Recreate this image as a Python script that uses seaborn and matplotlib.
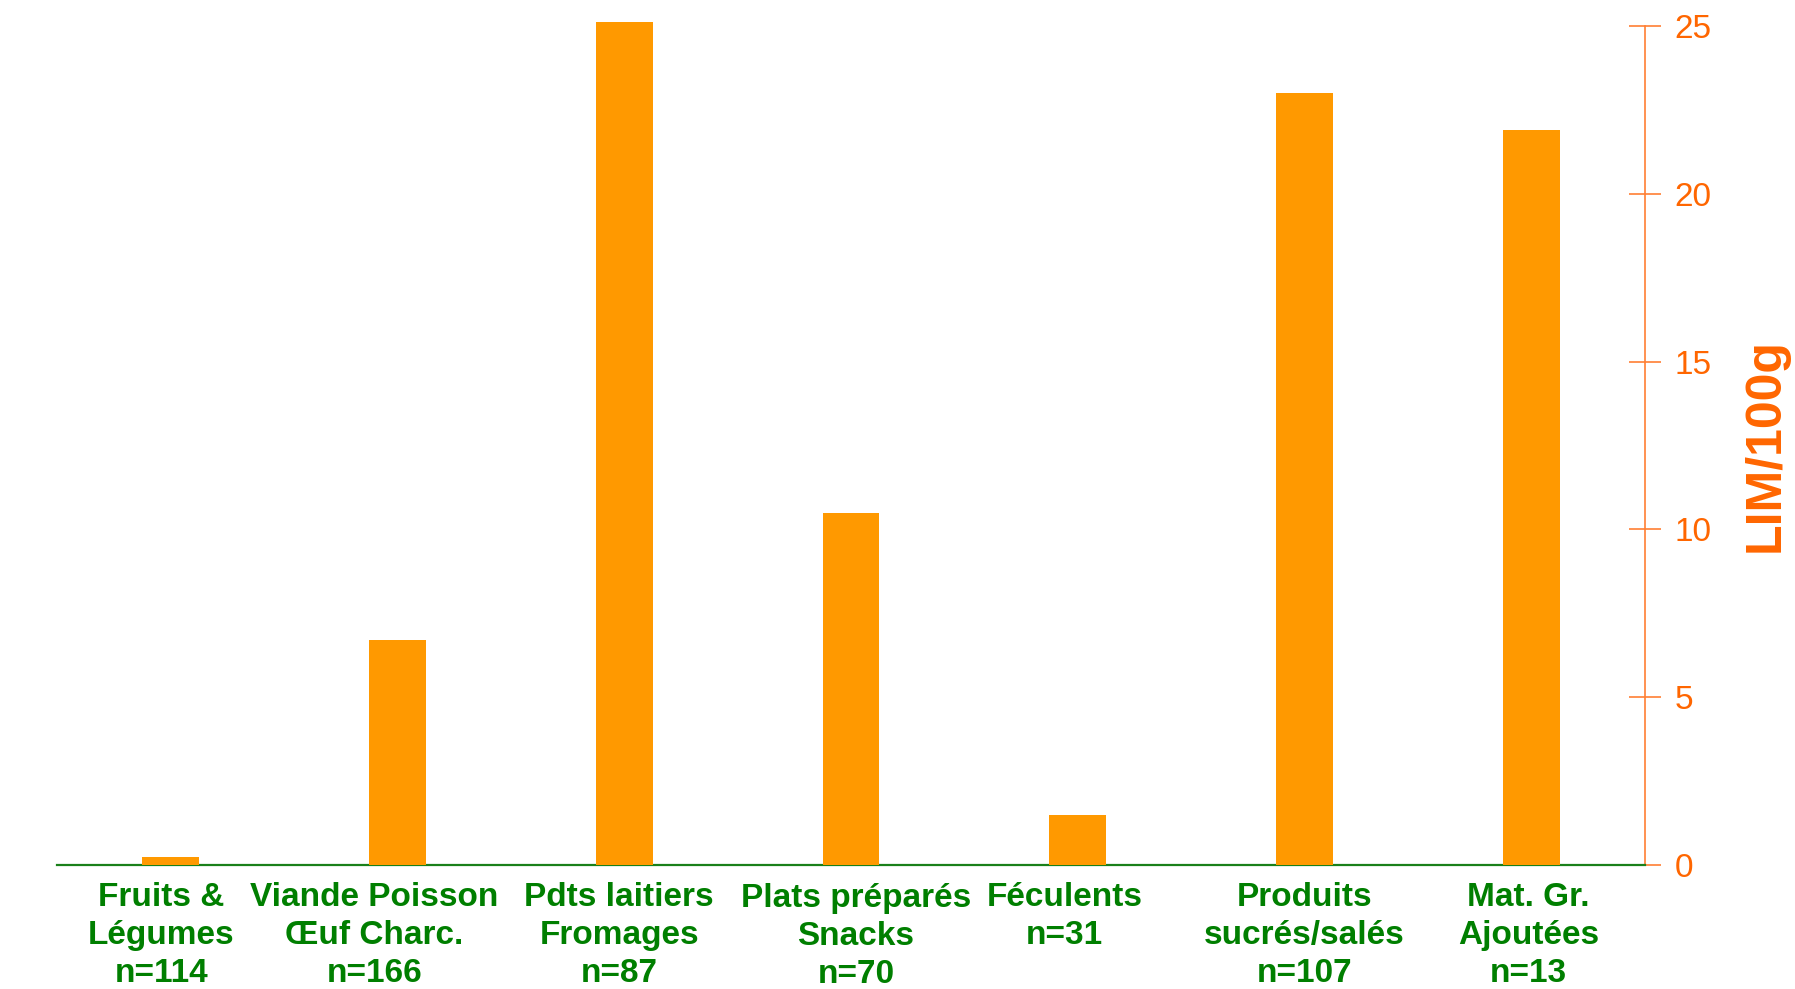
import matplotlib
matplotlib.use("Agg")
import matplotlib.pyplot as plt
import seaborn as sns
import pandas as pd

categories = ["Fruits &\nLégumes\nn=114", "Viande Poisson\nŒuf Charc.\nn=166",
              "Pdts laitiers\nFromages\nn=87", "Plats préparés\nSnacks\nn=70",
              "Féculents\nn=31", "Produits\nsucrés/salés\nn=107", "Mat. Gr.\nAjoutées\nn=13"]
values = [0.24, 6.7, 25.13, 10.5, 1.49, 23.0, 21.9]
yticks = [0, 5, 10, 15, 20, 25]
# small horizontal / vertical nudges of the category labels (points)
label_dx = [-6.5, -16.5, -3.5, 3.5, -9.5, 0, -2]
label_dy = [0, 0, 0, -1, 0, 0, 0]

df = pd.DataFrame({"cat": categories, "val": values})

sns.set_theme(style="white")
from matplotlib import font_manager
names = {f.name for f in font_manager.fontManager.ttflist}
narrow = "Liberation Sans Narrow" if "Liberation Sans Narrow" in names else "Liberation Sans"
plt.rcParams['font.family'] = ['Liberation Sans', 'DejaVu Sans']

fig = plt.figure(figsize=(17.95, 9.89), dpi=100)
ax = fig.add_axes([0.0318, 0.1254, 0.9164 - 0.0318, 0.9737 - 0.1254])
sns.barplot(data=df, x="cat", y="val", color="#FF9900", width=0.25, saturation=1,
            ax=ax, zorder=3)
for p in ax.patches:
    p.set_clip_on(False)
    p.set_edgecolor("none")

ax.set_xlim(-0.5, 6.5)
ax.set_ylim(0, 25)
ax.yaxis.tick_right()
ax.yaxis.set_label_position("right")
ax.set_yticks(yticks)
ax.set_yticklabels([str(t) for t in yticks], fontsize=24, color="#FF6600")
ax.tick_params(axis="y", direction="inout", length=23, width=1.2, color="#FF7F33", pad=10)
ax.tick_params(axis="x", length=0, labelbottom=False)

for i, cat in enumerate(categories):
    ax.annotate(cat, xy=(i, 0), xycoords=("data", "axes fraction"),
                xytext=(label_dx[i], -12 + label_dy[i]), textcoords="offset points",
                ha="center", va="top", fontsize=24, fontweight="bold",
                color="#007F00", linespacing=1.3,
                fontfamily=[narrow, "DejaVu Sans"], annotation_clip=False)

for s in ["top", "left"]:
    ax.spines[s].set_visible(False)
ax.spines["right"].set_color("#FF7F33")
ax.spines["right"].set_linewidth(1.2)
ax.spines["bottom"].set_color("#1A801A")
ax.spines["bottom"].set_linewidth(1.6)

ax.set_xlabel("")
ax.set_ylabel("LIM/100g", fontsize=36, fontweight="bold", color="#FF6600",
              rotation=90, labelpad=22)

fig.savefig("out.png", dpi=100)
